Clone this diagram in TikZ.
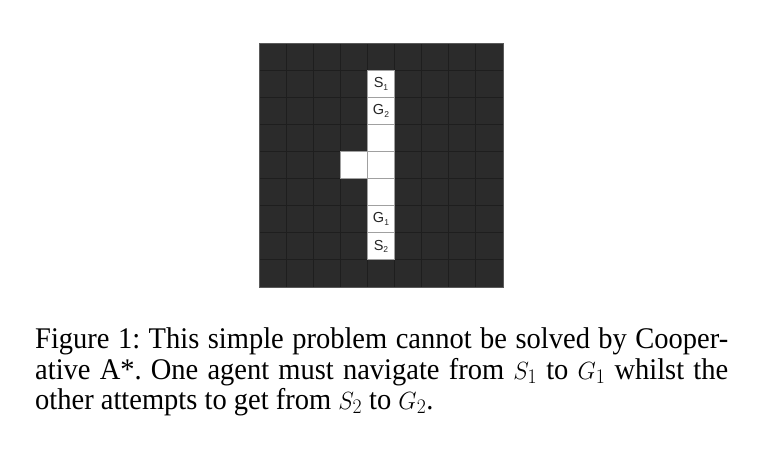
\documentclass[tikz,border=0pt]{standalone}
\usepackage{fontspec}
\setmainfont{Liberation Serif}
\newfontfamily\gridfont{Liberation Sans}
\definecolor{celldark}{HTML}{2B2B2B}
\definecolor{gridline}{HTML}{1E1E1E}
\definecolor{whiteline}{HTML}{A0A0A0}
\definecolor{borderline}{HTML}{5A5A5A}
\newcommand{\gridsub}[1]{\raisebox{-0.35ex}{\fontsize{8.5}{9}\selectfont #1}}
\begin{document}
\frenchspacing
\begin{tikzpicture}[x=1pt,y=-1pt,
  darkcell/.style={fill=celldark,draw=gridline,line width=0.8pt},
  freecell/.style={fill=white,draw=whiteline,line width=0.8pt},
  celllabel/.style={font=\gridfont\fontsize{14.5}{15}\selectfont,inner sep=0pt,text=black!85},
  capline/.style={anchor=base west,inner sep=0pt,font=\fontsize{30}{30}\selectfont\frenchspacing}]
\useasboundingbox (0,0) rectangle (758,454);
\fill[white] (0,0) rectangle (758,454);
\def\cs{27.11}
\def\gx{259}
\def\gy{43}
% dark grid
\foreach \i in {0,...,8}{
  \foreach \j in {0,...,8}{
    \draw[darkcell] ({\gx+\i*\cs},{\gy+\j*\cs}) rectangle ({\gx+(\i+1)*\cs},{\gy+(\j+1)*\cs});
  }
}
% free cells
\foreach \j in {1,...,7}{
  \draw[freecell] ({\gx+4*\cs},{\gy+\j*\cs}) rectangle ({\gx+5*\cs},{\gy+(\j+1)*\cs});
}
\draw[freecell] ({\gx+3*\cs},{\gy+4*\cs}) rectangle ({\gx+4*\cs},{\gy+5*\cs});
\draw[borderline,line width=0.8pt] (\gx,\gy) rectangle ({\gx+9*\cs},{\gy+9*\cs});
% labels
\node[celllabel] (s1) at ({\gx+4.5*\cs},{\gy+1.5*\cs}) {S\gridsub{1}};
\node[celllabel] (g2) at ({\gx+4.5*\cs},{\gy+2.5*\cs}) {G\gridsub{2}};
\node[celllabel] (g1) at ({\gx+4.5*\cs},{\gy+6.5*\cs}) {G\gridsub{1}};
\node[celllabel] (s2) at ({\gx+4.5*\cs},{\gy+7.5*\cs}) {S\gridsub{2}};
% caption
\node[capline] (c1) at (35,349) {\scalebox{0.95}[1]{\makebox[729.5pt][s]{Figure 1: This simple problem cannot be solved by Cooper-}}};
\node[capline] (c2) at (35,379) {\scalebox{0.95}[1]{\makebox[729.5pt][s]{ative A*. One agent must navigate from $S_1$ to $G_1$ whilst the}}};
\node[capline] (c3) at (35,409) {\scalebox{0.95}[1]{other attempts to get from $S_2$ to $G_2$.}};
\end{tikzpicture}
\end{document}
